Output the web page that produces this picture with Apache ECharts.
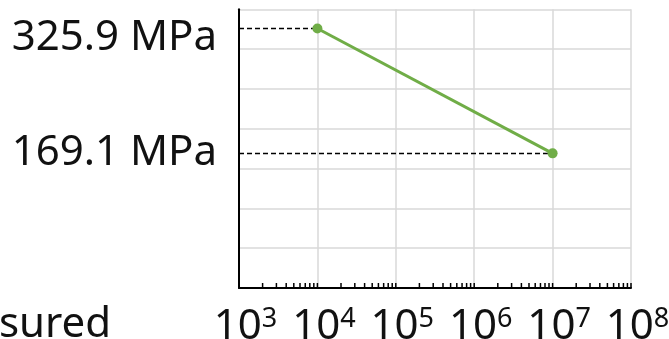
<!DOCTYPE html>
<html>
<head>
<meta charset="utf-8">
<script src="https://cdn.jsdelivr.net/npm/echarts@6/dist/echarts.min.js"></script>
<style>html,body{margin:0;padding:0;background:#fff}#c{width:669px;height:339px}</style>
</head>
<body>
<div id="c"></div>
<script>
// Data
const cycles = [1e4, 1e7];
const stressMPa = [325.9, 169.1];
const stressLabels = ['325.9 MPa', '169.1 MPa'];
const xDecades = [1e3, 1e4, 1e5, 1e6, 1e7, 1e8];
const xTickExponents = ['3', '4', '5', '6', '7', '8'];
const minorMultipliers = [1, 2, 3, 4, 5, 6, 7, 8, 9];
const yMin = 0, yMax = 350, yStep = 50;

const FONT = '"Noto Sans", "Open Sans", sans-serif';

const minorTicks = [];
xDecades.slice(0, -1).forEach(d => minorMultipliers.forEach(m => minorTicks.push([d * m, 0])));
minorTicks.push([xDecades[xDecades.length - 1], 0]);

const chart = echarts.init(document.getElementById('c'));
chart.setOption({
  animation: false,
  grid: { left: 239, right: 38, top: 9.3, bottom: 51, containLabel: false, outerBoundsMode: 'none' },
  xAxis: {
    type: 'log', logBase: 10, min: xDecades[0], max: xDecades[xDecades.length - 1],
    axisLine: { show: true, lineStyle: { color: '#000', width: 2 } },
    axisTick: { show: false },
    minorTick: { show: false },
    splitLine: { show: true, lineStyle: { color: '#d9d9d9', width: 1.5 } },
    axisLabel: {
      margin: 18, color: '#111',
      formatter: v => {
        const i = xDecades.findIndex(d => Math.abs(Math.log10(d) - Math.log10(v)) < 1e-6);
        return i < 0 ? '' : '{p|}{b|10}{s|' + xTickExponents[i] + '}';
      },
      rich: {
        p: { width: 13 },
        b: { fontSize: 42, fontFamily: FONT, color: '#111', lineHeight: 42 },
        s: { fontSize: 27, fontFamily: FONT, color: '#111', verticalAlign: 'top', lineHeight: 30 }
      }
    }
  },
  yAxis: {
    type: 'value', min: yMin, max: yMax, interval: yStep,
    axisLine: { show: true, lineStyle: { color: '#000', width: 2 } },
    axisTick: { show: false },
    axisLabel: { show: false },
    splitLine: { show: true, lineStyle: { color: '#d9d9d9', width: 1.5 } }
  },
  series: [
    {
      type: 'line',
      data: cycles.map((c, i) => [c, stressMPa[i]]),
      lineStyle: { color: '#70AD47', width: 3 },
      itemStyle: { color: '#70AD47' },
      symbol: 'circle', symbolSize: 10,
      z: 5,
      markLine: {
        silent: true, symbol: 'none', animation: false,
        lineStyle: { color: '#000', type: [5, 3], width: 1.3 },
        label: { show: false },
        data: cycles.map((c, i) => [
          { coord: [xDecades[0], stressMPa[i]] },
          { coord: [c, stressMPa[i]] }
        ])
      }
    },
    {
      type: 'custom',
      silent: true,
      data: minorTicks,
      clip: false,
      renderItem: (params, api) => {
        const p = api.coord([api.value(0), api.value(1)]);
        return {
          type: 'line',
          shape: { x1: p[0], y1: p[1], x2: p[0], y2: p[1] - 5 },
          style: { stroke: '#000', lineWidth: 1.5 }
        };
      },
      z: 3
    }
  ]
});

const labelOffsets = [10, 0];
const graphics = stressMPa.map((v, i) => {
  const p = chart.convertToPixel({ xAxisIndex: 0, yAxisIndex: 0 }, [xDecades[0], v]);
  return {
    type: 'text', x: p[0] - 22, y: p[1] + labelOffsets[i],
    style: { text: stressLabels[i], font: '42px ' + FONT, fill: '#111', align: 'right', verticalAlign: 'middle' }
  };
});
graphics.push({ type: 'text', left: -1, top: 304, style: { text: 'sured', font: '42px ' + FONT, fill: '#111' } });
chart.setOption({ graphic: graphics });
</script>
</body>
</html>
